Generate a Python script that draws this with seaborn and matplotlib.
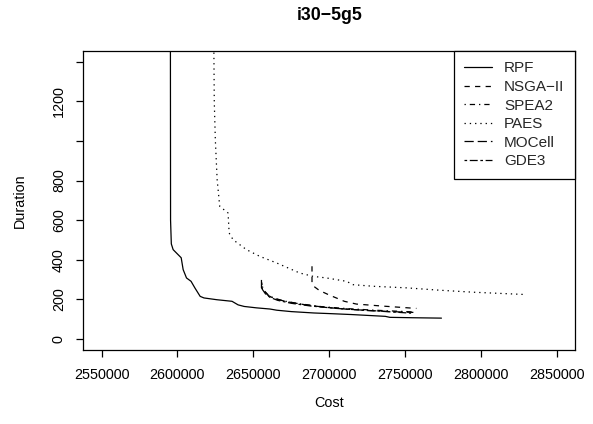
import matplotlib
matplotlib.use("Agg")
import matplotlib.pyplot as plt
import seaborn as sns
import pandas as pd

# ---------------- data ----------------
title = "i30\u22125g5"
x_label = "Cost"
y_label = "Duration"
x_ticks = [2550000, 2600000, 2650000, 2700000, 2750000, 2800000, 2850000]
x_tick_labels = ["2550000", "2600000", "2650000", "2700000", "2750000", "2800000", "2850000"]
y_ticks = [0, 200, 400, 600, 800, 1000, 1200, 1400]
y_tick_labels = ["0", "200", "400", "600", "800", "", "1200", ""]
x_range = [2550000, 2850000]
y_range = [0, 1400]

series_names = ["RPF", "NSGA\u2212II", "SPEA2", "PAES", "MOCell", "GDE3"]

rpf_cost = [2595400, 2595500, 2596000, 2597200, 2602500, 2603800, 2606000, 2609000, 2611500,
            2615000, 2617500, 2626000, 2636000, 2640000, 2644000, 2652000, 2661000, 2665500,
            2675000, 2690000, 2700000, 2715000, 2737000, 2740000, 2755000, 2774000]
rpf_duration = [1500, 600, 480, 451, 410, 350, 308, 291, 258,
                215, 207, 198, 190, 172, 164, 157, 151, 145,
                138, 131, 128, 123, 114, 109, 107, 105]

nsga_cost = [2688700, 2688700, 2690000, 2693500, 2700000, 2710000, 2718000, 2735000, 2757500]
nsga_duration = [367, 283, 265, 245, 222, 190, 176, 166, 154]

spea2_cost = [2656000, 2657000, 2659500, 2663000, 2670000, 2680000, 2695000, 2712000, 2730000, 2748000, 2756000]
spea2_duration = [265, 245, 225, 208, 192, 178, 163, 153, 145, 139, 136]

paes_cost = [2624000, 2624300, 2625000, 2626200, 2627900, 2633400, 2634100, 2636700, 2645500, 2654300,
             2665300, 2680600, 2689400, 2698200, 2711400, 2715800, 2728900, 2750900, 2772900, 2794800, 2830000]
paes_duration = [1500, 1200, 1006, 804, 670, 636, 535, 501, 451, 417,
                 384, 333, 316, 308, 291, 274, 266, 258, 246, 236, 224]

mocell_cost = [2655400, 2655400, 2657500, 2659700, 2664000, 2672800, 2683800, 2694800, 2708000, 2725000, 2740000, 2755500]
mocell_duration = [298, 258, 240, 220, 203, 187, 173, 162, 152, 144, 138, 134]

gde3_cost = [2655600, 2656000, 2658000, 2661000, 2666000, 2675000, 2688000, 2705000, 2722000, 2740000, 2754000]
gde3_duration = [285, 250, 228, 210, 195, 180, 166, 154, 145, 137, 130]

# ---------------- style ----------------
sns.set_theme(style="white")
plt.rcParams["font.family"] = ["Liberation Sans", "DejaVu Sans"]
plt.rcParams["lines.scale_dashes"] = False

u = 0.95
styles = {
    "RPF": "solid",
    "NSGA\u2212II": (0, (4 * u, 4 * u)),
    "SPEA2": (0, (1 * u, 3 * u, 4 * u, 3 * u)),
    "PAES": (0, (1 * u, 3 * u)),
    "MOCell": (0, (7 * u, 3 * u)),
    "GDE3": (0, (2 * u, 2 * u, 6 * u, 2 * u)),
}

data = {
    "RPF": (rpf_cost, rpf_duration),
    "NSGA\u2212II": (nsga_cost, nsga_duration),
    "SPEA2": (spea2_cost, spea2_duration),
    "PAES": (paes_cost, paes_duration),
    "MOCell": (mocell_cost, mocell_duration),
    "GDE3": (gde3_cost, gde3_duration),
}

fig = plt.figure(figsize=(5.93, 4.24), dpi=100)
ax = fig.add_axes([83.3 / 593, 1 - 350 / 424, (575 - 83.3) / 593, (350 - 50.7) / 424])

lw = 0.9
for name in series_names:
    cx, dy = data[name]
    df = pd.DataFrame({"Cost": cx, "Duration": dy})
    sns.lineplot(data=df, x="Cost", y="Duration", sort=False, estimator=None,
                 color="black", linewidth=lw, linestyle=styles[name], label=name, ax=ax)

pad_x = 0.04 * (x_range[1] - x_range[0])
pad_y = 0.04 * (y_range[1] - y_range[0])
ax.set_xlim(x_range[0] - pad_x, x_range[1] + pad_x)
ax.set_ylim(y_range[0] - pad_y, y_range[1] + pad_y)

fs = 10.4
ax.set_xticks(x_ticks)
ax.set_xticklabels(x_tick_labels, fontsize=fs)
ax.set_yticks(y_ticks)
ax.set_yticklabels(y_tick_labels, fontsize=fs, rotation=90, va="center")
ax.tick_params(axis="both", direction="out", length=5, width=0.9, color="black",
               bottom=True, left=True, labelcolor="black")
ax.tick_params(axis="x", pad=8)
ax.tick_params(axis="y", pad=7.5)
for s in ax.spines.values():
    s.set_color("black")
    s.set_linewidth(0.9)
    s.set_visible(True)
ax.grid(False)

ax.set_xlabel("")
ax.set_ylabel("")
fig.text((83.3 + 575) / 2 / 593, 1 - 403 / 424, x_label, ha="center", va="center", fontsize=fs, color="black")
fig.text(20 / 593, 1 - 200.4 / 424, y_label, ha="center", va="center", rotation=90, fontsize=fs, color="black")
fig.text((83.3 + 575) / 2 / 593, 1 - 16 / 424, title, ha="center", va="center", fontsize=12.8,
         fontweight="bold", color="black")

leg = ax.legend(loc="upper right", bbox_to_anchor=(1, 1), borderaxespad=0, fontsize=11,
                frameon=True, fancybox=False, framealpha=1, edgecolor="black",
                handlelength=1.8, handletextpad=0.8, labelspacing=0.3, borderpad=0.7)
leg.get_frame().set_linewidth(0.9)

fig.savefig("out.png", dpi=100)
